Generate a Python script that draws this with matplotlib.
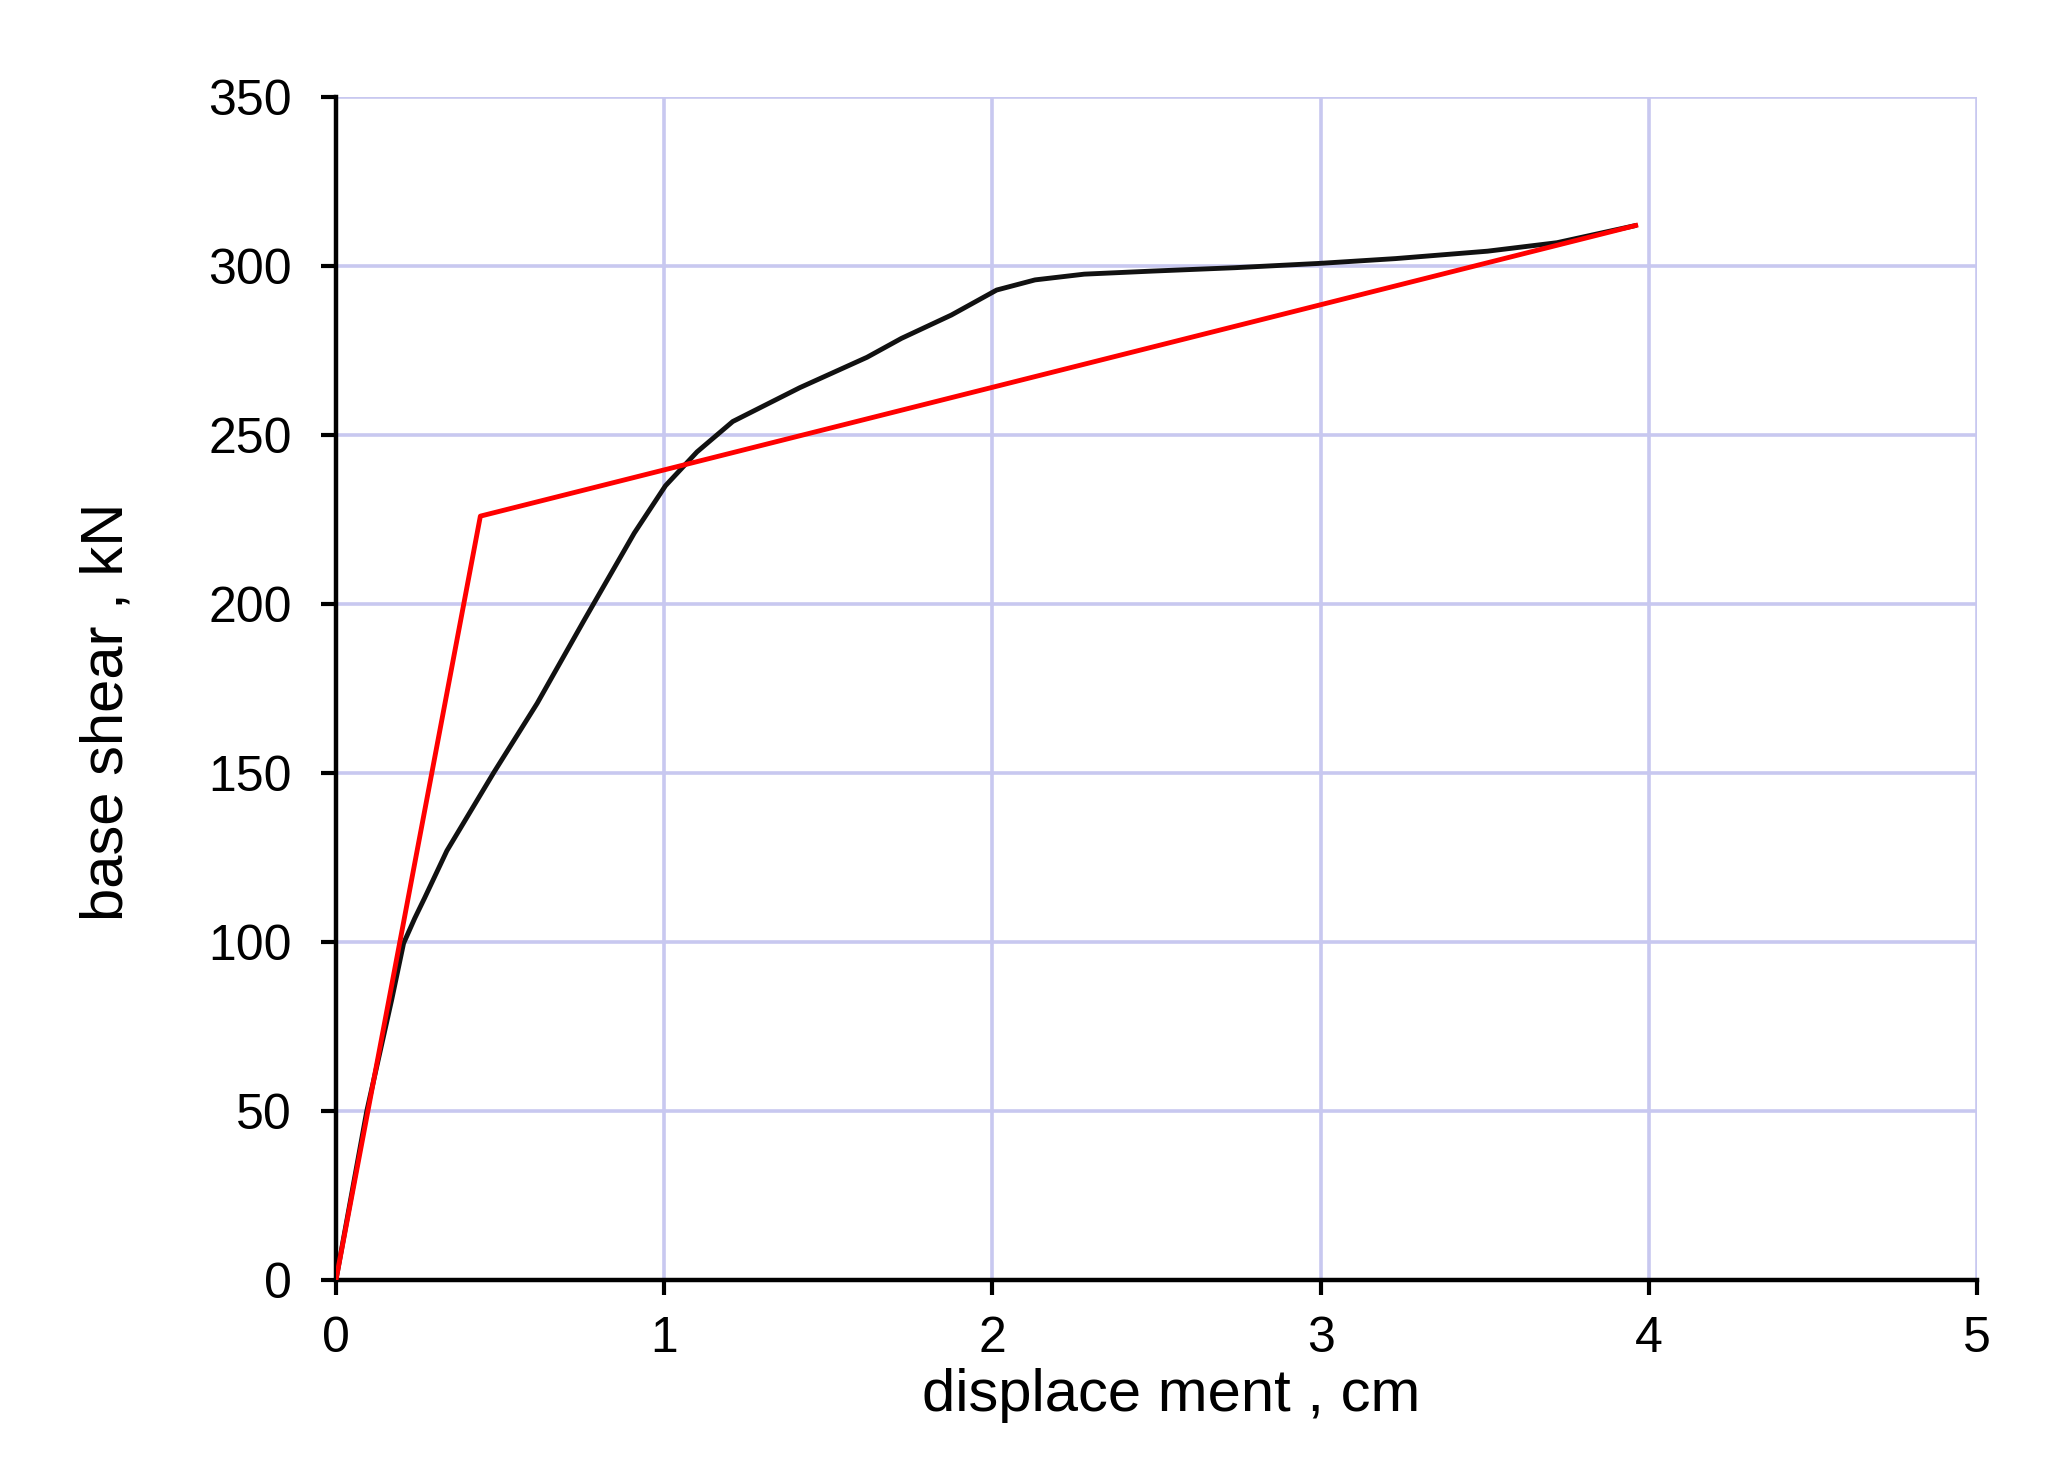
import numpy as np
import matplotlib
matplotlib.use('Agg')
import matplotlib.pyplot as plt

plt.rcParams.update({'font.family': ['Liberation Sans', 'DejaVu Sans']})

# pushover curve (black)
disp = [0.0, 0.094, 0.17, 0.206, 0.24, 0.27, 0.338, 0.48, 0.613, 0.755, 0.909,
        1.004, 1.10, 1.209, 1.413, 1.618, 1.723, 1.875, 2.013, 2.13, 2.28,
        2.486, 2.737, 3.0, 3.228, 3.509, 3.72, 3.96]
shear = [0, 50, 83, 99.6, 107, 113, 127, 150, 170.6, 195, 221,
         235, 245, 254, 264, 273, 278.6, 285.5, 292.9, 295.9, 297.6,
         298.5, 299.5, 300.8, 302.2, 304.4, 306.9, 312]

# bilinear idealisation (red)
bil_disp = [0.0, 0.44, 3.96]
bil_shear = [0, 226, 312]

xticks = [0, 1, 2, 3, 4, 5]
yticks = [0, 50, 100, 150, 200, 250, 300, 350]

fig = plt.figure(figsize=(20.56, 14.66), dpi=100)
ax = fig.add_axes([0.1634, 0.1269, 0.7982, 0.8069])

ax.plot(disp, shear, color='#111111', lw=3.5, solid_joinstyle='round',
        solid_capstyle='round', zorder=3)
ax.plot(bil_disp, bil_shear, color='#ff0000', lw=3.5, zorder=4)

ax.set_xlim(0, 5)
ax.set_ylim(0, 350)
ax.set_xticks(xticks)
ax.set_yticks(yticks)
ax.grid(True, color='#c8c8f0', lw=2.6)
ax.set_axisbelow(True)

for s in ['top', 'right']:
    ax.spines[s].set_visible(False)
for s in ['left', 'bottom']:
    ax.spines[s].set_linewidth(3.2)
    ax.spines[s].set_color('black')

ax.tick_params(axis='both', direction='out', length=11, width=3.0,
               labelsize=36, colors='black')
ax.tick_params(axis='y', pad=21)
ax.tick_params(axis='x', pad=15)

ax.set_xlabel('displace ment , cm', fontsize=43)
ax.set_ylabel('base shear , kN', fontsize=43)
ax.xaxis.set_label_coords(0.509, -0.098)
ax.xaxis.label.set_va('center')
ax.yaxis.set_label_coords(-0.1396, 0.48)
ax.yaxis.label.set_va('center')

fig.savefig('out.png', dpi=100, facecolor='white')
